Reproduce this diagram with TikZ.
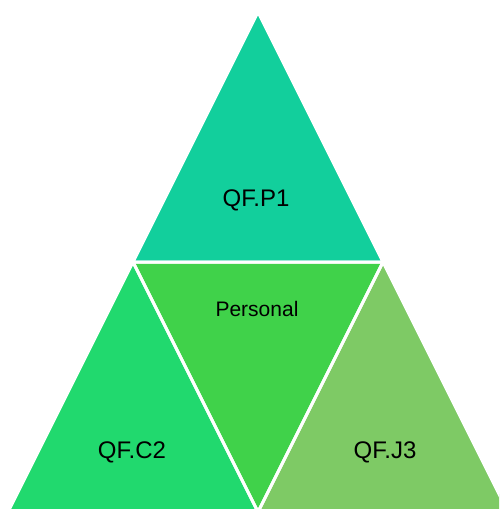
\documentclass[tikz,border=0pt]{standalone}
\usepackage{fontspec}
\setmainfont{Liberation Sans}
\definecolor{tealtop}{RGB}{18,207,156}
\definecolor{greenmid}{RGB}{64,210,74}
\definecolor{greenleft}{RGB}{33,217,110}
\definecolor{greenright}{RGB}{126,202,101}
\tikzset{
  tri/.style={draw=white, line width=3pt, line join=miter},
  lbl/.style={font=\fontsize{24}{28}\selectfont, text=black, inner sep=0pt}
}
\begin{document}
\begin{tikzpicture}[x=1pt, y=-1pt]
  \useasboundingbox (0,0) rectangle (499,509);
  \clip (0,0) rectangle (499,509);
  % corner points of the pyramid
  \coordinate (apex) at (258,12);
  \coordinate (ml) at (133,262);
  \coordinate (mr) at (383,262);
  \coordinate (bl) at (8,512);
  \coordinate (bm) at (258,512);
  \coordinate (br) at (508,512);
  % four triangles
  \fill[tealtop]   (apex) -- (ml) -- (mr) -- cycle;
  \fill[greenleft] (ml) -- (bl) -- (bm) -- cycle;
  \fill[greenmid]  (ml) -- (mr) -- (bm) -- cycle;
  \fill[greenright](mr) -- (bm) -- (br) -- cycle;
  \draw[tri] (apex) -- (ml) -- (mr) -- cycle;
  \draw[tri] (ml) -- (bl) -- (bm) -- cycle;
  \draw[tri] (ml) -- (mr) -- (bm) -- cycle;
  \draw[tri] (mr) -- (bm) -- (br) -- cycle;
  % labels
  \node[lbl] (p1) at (256,200) {QF.P1};
  \node[lbl, font=\fontsize{21}{25}\selectfont] (pers) at (257,309) {Personal};
  \node[lbl] (c2) at (132,452) {QF.C2};
  \node[lbl] (j3) at (385,452) {QF.J3};
\end{tikzpicture}
\end{document}
